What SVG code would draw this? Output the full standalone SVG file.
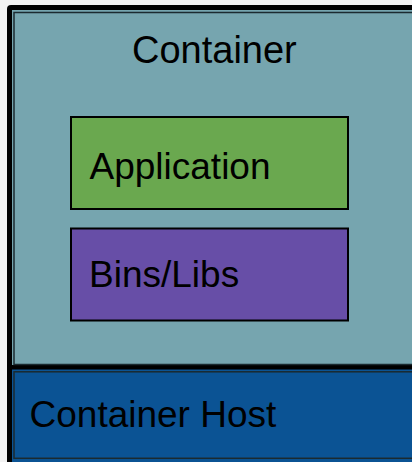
<svg xmlns="http://www.w3.org/2000/svg" width="412" height="462" viewBox="0 0 412 462">
  <style>
    .lbl { font-family: "Liberation Sans", Arial, sans-serif; font-size: 37px; fill: #000; }
    .title { font-size: 38px; }
    .box { stroke: #000; stroke-width: 2; }
    .inner { fill: none; stroke: #1b2a30; stroke-width: 1.5; }
  </style>
  <!-- page background -->
  <rect x="0" y="0" width="412" height="462" fill="#f2f2f2"/>
  <!-- heavy outer frame -->
  <rect x="7" y="5" width="420" height="470" rx="4" fill="#000"/>

  <g id="container">
    <rect x="12" y="10" width="410" height="355" fill="#76a5af"/>
    <rect x="14" y="12.5" width="410" height="352" class="inner"/>
    <text class="lbl title" x="132" y="62.5">Container</text>
  </g>

  <g id="application">
    <rect x="71" y="117" width="277" height="92" fill="#6aa84f" class="box"/>
    <text class="lbl" x="89.5" y="178.5">Application</text>
  </g>

  <g id="bins-libs">
    <rect x="71" y="228.5" width="277" height="92" fill="#674ea7" class="box"/>
    <text class="lbl" x="89" y="287">Bins/Libs</text>
  </g>

  <g id="container-host">
    <rect x="12" y="369.5" width="410" height="100" fill="#0b5394"/>
    <rect x="14" y="371.8" width="410" height="86.5" class="inner"/>
    <text class="lbl" x="29.5" y="427">Container Host</text>
  </g>

  <g id="connectors"></g>
</svg>
